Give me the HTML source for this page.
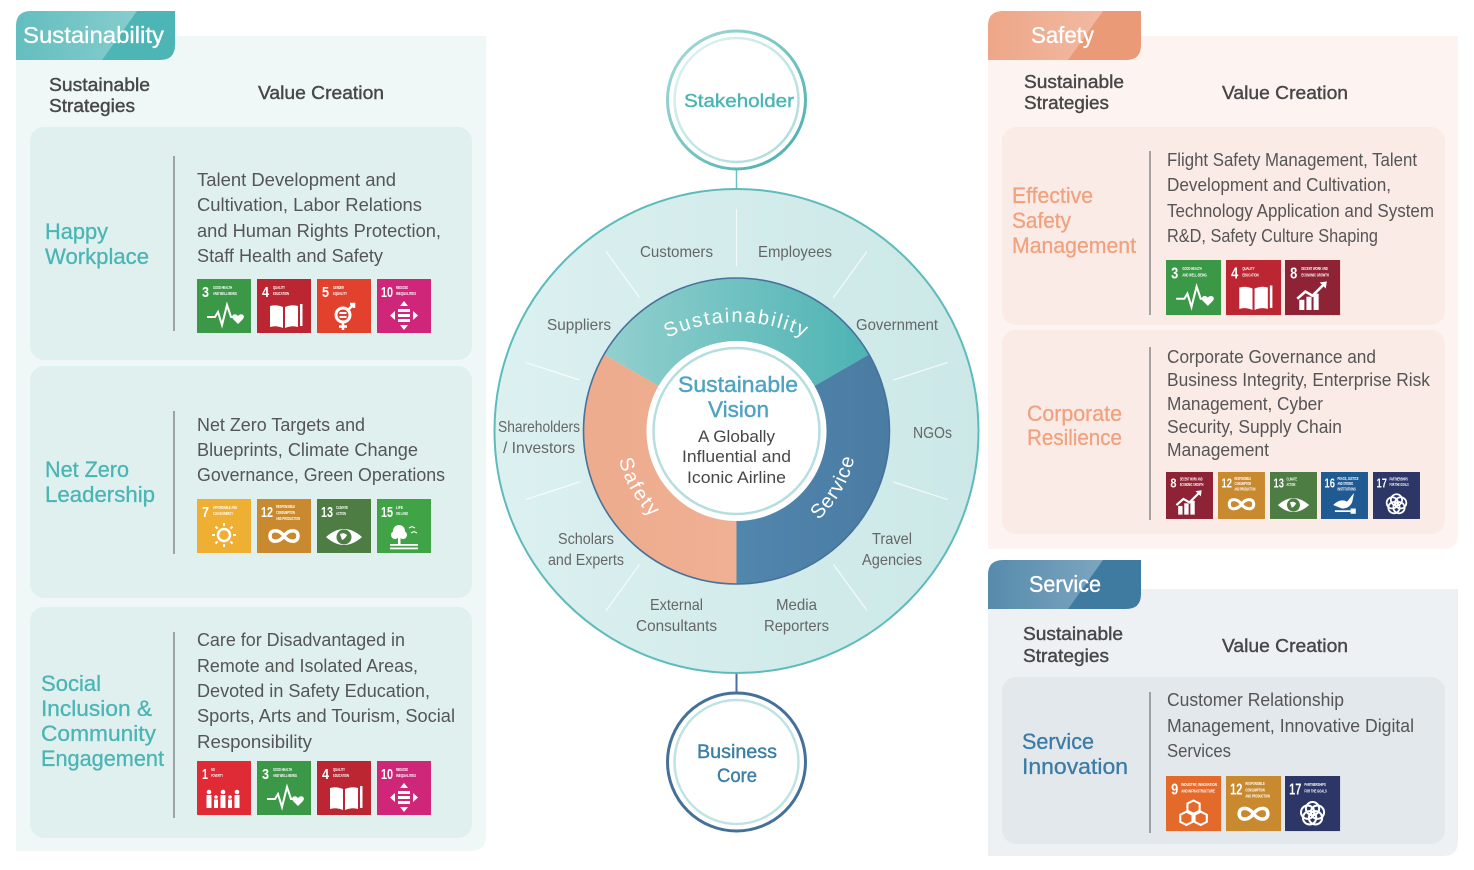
<!DOCTYPE html>
<html>
<head>
<meta charset="utf-8">
<style>
html,body{margin:0;padding:0;background:#fff;}
svg{display:block;}
.v{font-size:18.5px;fill:#555;}
.h{font-size:18.5px;fill:#474747;stroke:#474747;stroke-width:0.4;}
.tt{font-size:22.5px;stroke-width:0.3;}
.teal{fill:#4bb5b4;stroke:#4bb5b4;}
.sal{fill:#f0a27f;stroke:#f0a27f;}
.blu{fill:#3a7ca5;stroke:#3a7ca5;}
.tab{font-size:23px;fill:#fff;stroke:#fff;stroke-width:0.3;}
.lab{font-size:16px;fill:#666;}
.n{font-size:15px;font-weight:bold;fill:#fff;}
.s{font-size:4.8px;font-weight:bold;fill:#fff;}
</style>
</head>
<body>
<svg width="1474" height="870" viewBox="0 0 1474 870" xmlns="http://www.w3.org/2000/svg" font-family="'Liberation Sans', Arial, sans-serif">
<defs>
<linearGradient id="ring" x1="0" x2="1" y1="0" y2="0"><stop offset="0" stop-color="#dcf0f0"/><stop offset="1" stop-color="#cbe8e7"/></linearGradient>
<linearGradient id="sus" gradientUnits="userSpaceOnUse" x1="604" y1="0" x2="869" y2="0"><stop offset="0" stop-color="#93d0cf"/><stop offset="1" stop-color="#4db3b3"/></linearGradient>
<linearGradient id="saf" gradientUnits="userSpaceOnUse" x1="584" y1="0" x2="737" y2="0"><stop offset="0" stop-color="#eeab8d"/><stop offset="1" stop-color="#f0b093"/></linearGradient>
<linearGradient id="ser" gradientUnits="userSpaceOnUse" x1="737" y1="0" x2="890" y2="0"><stop offset="0" stop-color="#5186ad"/><stop offset="1" stop-color="#4a7ba3"/></linearGradient>
<linearGradient id="stk" x1="0" y1="0" x2="1" y2="1"><stop offset="0" stop-color="#a8dcdb"/><stop offset="1" stop-color="#45adad"/></linearGradient>
<linearGradient id="stk2" x1="0" y1="0" x2="1" y2="1"><stop offset="0" stop-color="#e0f3f3"/><stop offset="1" stop-color="#a9dbda"/></linearGradient>
<linearGradient id="hi" x1="0" x2="1" y1="0" y2="0"><stop offset="0" stop-color="#fff" stop-opacity="0.12"/><stop offset="1" stop-color="#fff" stop-opacity="0.32"/></linearGradient>

<path id="arcSus" d="M578.5,480 A158,158 0 0 1 894.5,480"/>
<path id="arcSaf" d="M631.7,370.5 A121,121 0 0 0 736.5,552"/>
<path id="arcSer" d="M736.5,552 A121,121 0 0 0 841.3,370.5"/>

<symbol id="g3" viewBox="0 0 54 54"><polyline points="10,38 18,38 21,33 25,46 30,26 34,38 37,38" fill="none" stroke="#fff" stroke-width="2"/><path d="M41,45 L36,40 Q34,37 36.5,35.5 Q39,34.5 41,37 Q43,34.5 45.5,35.5 Q48,37 46,40 Z" fill="#fff"/></symbol>
<symbol id="g4" viewBox="0 0 54 54"><path d="M13,27 Q19,25 26,28 V49 Q19,46 13,48 Z M28,28 Q35,25 41,27 V48 Q35,46 28,49 Z" fill="#fff"/><rect x="43" y="25" width="2.5" height="22" fill="#fff"/></symbol>
<symbol id="g5" viewBox="0 0 54 54"><circle cx="26" cy="36" r="7" fill="none" stroke="#fff" stroke-width="3"/><path d="M31,31 L37,25 M33,25 H37 V29" stroke="#fff" stroke-width="2.5" fill="none"/><path d="M26,43 V51 M22,47.5 H30" stroke="#fff" stroke-width="2.5"/><rect x="22.5" y="33" width="7" height="2" fill="#fff"/><rect x="22.5" y="37" width="7" height="2" fill="#fff"/></symbol>
<symbol id="g10" viewBox="0 0 54 54"><path d="M27,22 L31,27 H23 Z M27,51 L31,46 H23 Z M13,36.5 L18,32 V41 Z M41,36.5 L36,32 V41 Z" fill="#fff"/><rect x="21" y="30" width="12" height="3" fill="#fff"/><rect x="21" y="35" width="12" height="3" fill="#fff"/><rect x="21" y="40" width="12" height="3" fill="#fff"/></symbol>
<symbol id="g7" viewBox="0 0 54 54"><circle cx="27" cy="36" r="6" fill="none" stroke="#fff" stroke-width="2.5"/><g stroke="#fff" stroke-width="2"><line x1="36" y1="36" x2="39" y2="36"/><line x1="18" y1="36" x2="15" y2="36"/><line x1="27" y1="27" x2="27" y2="24"/><line x1="27" y1="45" x2="27" y2="48"/><line x1="33.4" y1="42.4" x2="35.5" y2="44.5"/><line x1="20.6" y1="42.4" x2="18.5" y2="44.5"/><line x1="33.4" y1="29.6" x2="35.5" y2="27.5"/><line x1="20.6" y1="29.6" x2="18.5" y2="27.5"/></g></symbol>
<symbol id="g12" viewBox="0 0 54 54"><path d="M27,37 C22,30 13,30 13,37 C13,44 22,44 27,37 C32,30 41,30 41,37 C41,44 32,44 27,37 Z" fill="none" stroke="#fff" stroke-width="3.5"/></symbol>
<symbol id="g13" viewBox="0 0 54 54"><path d="M9,38 Q27,22 45,38 Q27,54 9,38 Z" fill="#fff"/><circle cx="27" cy="38" r="7.5" fill="#4e7d43"/><path d="M23,35 Q27,33 30,36 Q28,40 25,41 Z" fill="#fff"/></symbol>
<symbol id="g15" viewBox="0 0 54 54"><circle cx="22" cy="32" r="6" fill="#fff"/><circle cx="18" cy="36" r="4" fill="#fff"/><circle cx="26" cy="36" r="4" fill="#fff"/><rect x="21" y="36" width="2.5" height="9" fill="#fff"/><rect x="13" y="45" width="28" height="1.8" fill="#fff"/><rect x="13" y="48.5" width="28" height="1.8" fill="#fff"/><path d="M32,29 l3,-1.5 l3,1.5 M34,34 l3,-1.5 l3,1.5" stroke="#fff" stroke-width="1" fill="none"/></symbol>
<symbol id="g1" viewBox="0 0 54 54"><g fill="#fff"><circle cx="12" cy="31" r="2.3"/><rect x="9.5" y="34" width="5" height="13"/><circle cx="19" cy="36" r="1.8"/><rect x="17" y="38.5" width="4" height="8.5"/><circle cx="26" cy="31" r="2.3"/><rect x="23.5" y="34" width="5" height="13"/><circle cx="33" cy="36" r="1.8"/><rect x="31" y="38.5" width="4" height="8.5"/><circle cx="40" cy="31" r="2.3"/><rect x="37.5" y="34" width="5" height="13"/></g></symbol>
<symbol id="g8" viewBox="0 0 54 54"><rect x="14" y="39" width="5" height="10" fill="#fff"/><rect x="21" y="36" width="5" height="13" fill="#fff"/><rect x="28" y="33" width="5" height="16" fill="#fff"/><polyline points="12,38 20,31 27,35 38,24" fill="none" stroke="#fff" stroke-width="2.5"/><path d="M34,22 L41,21 L40,28 Z" fill="#fff"/></symbol>
<symbol id="g9" viewBox="0 0 54 54"><g fill="none" stroke="#fff" stroke-width="2"><path d="M27,24 l6,3 v7 l-6,3 l-6,-3 v-7 z"/><path d="M20,35 l6,3 v7 l-6,3 l-6,-3 v-7 z"/><path d="M34,35 l6,3 v7 l-6,3 l-6,-3 v-7 z"/></g></symbol>
<symbol id="g16" viewBox="0 0 54 54"><path d="M14,38 Q22,30 30,34 L38,24 L36,34 Q33,42 24,42 Z" fill="#fff"/><rect x="16" y="44" width="20" height="2" fill="#fff"/><rect x="34" y="42" width="6" height="6" fill="#fff"/></symbol>
<symbol id="g17" viewBox="0 0 54 54"><g fill="none" stroke="#fff" stroke-width="2"><circle cx="27" cy="32" r="6.5"/><circle cx="31.8" cy="35.5" r="6.5"/><circle cx="29.9" cy="41" r="6.5"/><circle cx="24.1" cy="41" r="6.5"/><circle cx="22.2" cy="35.5" r="6.5"/></g></symbol>
</defs>

<rect width="1474" height="870" fill="#fff"/>

<!-- ============ LEFT PANEL ============ -->
<path d="M16,36 H486 V836 Q486,851 471,851 H16 Z" fill="#eff8f7"/>
<path d="M16,26 Q16,11 31,11 H175 V45 Q175,60 160,60 H16 Z" fill="#4eb5b6"/>
<path d="M16,26 Q16,11 31,11 H137 L102,60 H16 Z" fill="url(#hi)"/>
<text class="tab" x="23" y="43" textLength="141" lengthAdjust="spacingAndGlyphs">Sustainability</text>

<text class="h" x="49" y="91" textLength="101" lengthAdjust="spacingAndGlyphs">Sustainable</text>
<text class="h" x="49" y="112" textLength="86" lengthAdjust="spacingAndGlyphs">Strategies</text>
<text class="h" x="258" y="99" textLength="126" lengthAdjust="spacingAndGlyphs">Value Creation</text>

<rect x="30" y="127" width="442" height="233" rx="14" fill="#dff0ef"/>
<rect x="30" y="366" width="442" height="232" rx="14" fill="#dff0ef"/>
<rect x="30" y="607" width="442" height="231" rx="14" fill="#dff0ef"/>
<g stroke="#7a7a7a" stroke-width="1.3">
<line x1="174" y1="156" x2="174" y2="331"/>
<line x1="174" y1="411" x2="174" y2="554"/>
<line x1="174" y1="632" x2="174" y2="818"/>
</g>

<text class="tt teal" x="45" y="239" textLength="63" lengthAdjust="spacingAndGlyphs">Happy</text>
<text class="tt teal" x="45" y="264" textLength="104" lengthAdjust="spacingAndGlyphs">Workplace</text>
<text class="tt teal" x="45" y="477" textLength="84" lengthAdjust="spacingAndGlyphs">Net Zero</text>
<text class="tt teal" x="45" y="502" textLength="110" lengthAdjust="spacingAndGlyphs">Leadership</text>
<text class="tt teal" x="41" y="691" textLength="60" lengthAdjust="spacingAndGlyphs">Social</text>
<text class="tt teal" x="41" y="716" textLength="111" lengthAdjust="spacingAndGlyphs">Inclusion &amp;</text>
<text class="tt teal" x="41" y="741" textLength="115" lengthAdjust="spacingAndGlyphs">Community</text>
<text class="tt teal" x="41" y="766" textLength="123" lengthAdjust="spacingAndGlyphs">Engagement</text>

<text class="v" x="197" y="186" textLength="199" lengthAdjust="spacingAndGlyphs">Talent Development and</text>
<text class="v" x="197" y="211" textLength="225" lengthAdjust="spacingAndGlyphs">Cultivation, Labor Relations</text>
<text class="v" x="197" y="237" textLength="244" lengthAdjust="spacingAndGlyphs">and Human Rights Protection,</text>
<text class="v" x="197" y="262" textLength="186" lengthAdjust="spacingAndGlyphs">Staff Health and Safety</text>

<text class="v" x="197" y="431" textLength="168" lengthAdjust="spacingAndGlyphs">Net Zero Targets and</text>
<text class="v" x="197" y="456" textLength="221" lengthAdjust="spacingAndGlyphs">Blueprints, Climate Change</text>
<text class="v" x="197" y="481" textLength="248" lengthAdjust="spacingAndGlyphs">Governance, Green Operations</text>

<text class="v" x="197" y="646" textLength="208" lengthAdjust="spacingAndGlyphs">Care for Disadvantaged in</text>
<text class="v" x="197" y="672" textLength="221" lengthAdjust="spacingAndGlyphs">Remote and Isolated Areas,</text>
<text class="v" x="197" y="697" textLength="233" lengthAdjust="spacingAndGlyphs">Devoted in Safety Education,</text>
<text class="v" x="197" y="722" textLength="258" lengthAdjust="spacingAndGlyphs">Sports, Arts and Tourism, Social</text>
<text class="v" x="197" y="748" textLength="115" lengthAdjust="spacingAndGlyphs">Responsibility</text>

<!-- Left SDGs card 1 -->
<g transform="translate(197,279)"><rect width="54" height="54" fill="#3a9847"/><use href="#g3" width="54" height="54"/><text class="n" x="5" y="18" textLength="7" lengthAdjust="spacingAndGlyphs">3</text><text class="s" x="16" y="10" textLength="19" lengthAdjust="spacingAndGlyphs">GOOD HEALTH</text><text class="s" x="16" y="16" textLength="24" lengthAdjust="spacingAndGlyphs">AND WELL-BEING</text></g>
<g transform="translate(257,279)"><rect width="54" height="54" fill="#bc2532"/><use href="#g4" width="54" height="54"/><text class="n" x="5" y="18" textLength="7" lengthAdjust="spacingAndGlyphs">4</text><text class="s" x="16" y="10" textLength="12" lengthAdjust="spacingAndGlyphs">QUALITY</text><text class="s" x="16" y="16" textLength="16" lengthAdjust="spacingAndGlyphs">EDUCATION</text></g>
<g transform="translate(317,279)"><rect width="54" height="54" fill="#e2422d"/><use href="#g5" width="54" height="54"/><text class="n" x="5" y="18" textLength="7" lengthAdjust="spacingAndGlyphs">5</text><text class="s" x="16" y="10" textLength="11" lengthAdjust="spacingAndGlyphs">GENDER</text><text class="s" x="16" y="16" textLength="14" lengthAdjust="spacingAndGlyphs">EQUALITY</text></g>
<g transform="translate(377,279)"><rect width="54" height="54" fill="#d0267a"/><use href="#g10" width="54" height="54"/><text class="n" x="4" y="18" textLength="12" lengthAdjust="spacingAndGlyphs">10</text><text class="s" x="19" y="10" textLength="12" lengthAdjust="spacingAndGlyphs">REDUCED</text><text class="s" x="19" y="16" textLength="20" lengthAdjust="spacingAndGlyphs">INEQUALITIES</text></g>

<!-- Left SDGs card 2 -->
<g transform="translate(197,499)"><rect width="54" height="54" fill="#efaf33"/><use href="#g7" width="54" height="54"/><text class="n" x="5" y="18" textLength="7" lengthAdjust="spacingAndGlyphs">7</text><text class="s" x="16" y="10" textLength="24" lengthAdjust="spacingAndGlyphs">AFFORDABLE AND</text><text class="s" x="16" y="16" textLength="20" lengthAdjust="spacingAndGlyphs">CLEAN ENERGY</text></g>
<g transform="translate(257,499)"><rect width="54" height="54" fill="#c98a2f"/><use href="#g12" width="54" height="54"/><text class="n" x="4" y="18" textLength="12" lengthAdjust="spacingAndGlyphs">12</text><text class="s" x="19" y="9" textLength="19" lengthAdjust="spacingAndGlyphs">RESPONSIBLE</text><text class="s" x="19" y="15" textLength="19" lengthAdjust="spacingAndGlyphs">CONSUMPTION</text><text class="s" x="19" y="21" textLength="24" lengthAdjust="spacingAndGlyphs">AND PRODUCTION</text></g>
<g transform="translate(317,499)"><rect width="54" height="54" fill="#4e7d43"/><use href="#g13" width="54" height="54"/><text class="n" x="4" y="18" textLength="12" lengthAdjust="spacingAndGlyphs">13</text><text class="s" x="19" y="10" textLength="12" lengthAdjust="spacingAndGlyphs">CLIMATE</text><text class="s" x="19" y="16" textLength="10" lengthAdjust="spacingAndGlyphs">ACTION</text></g>
<g transform="translate(377,499)"><rect width="54" height="54" fill="#40a447"/><use href="#g15" width="54" height="54"/><text class="n" x="4" y="18" textLength="12" lengthAdjust="spacingAndGlyphs">15</text><text class="s" x="19" y="10" textLength="7" lengthAdjust="spacingAndGlyphs">LIFE</text><text class="s" x="19" y="16" textLength="12" lengthAdjust="spacingAndGlyphs">ON LAND</text></g>

<!-- Left SDGs card 3 -->
<g transform="translate(197,761)"><rect width="54" height="54" fill="#e02a36"/><use href="#g1" width="54" height="54"/><text class="n" x="5" y="18" textLength="6" lengthAdjust="spacingAndGlyphs">1</text><text class="s" x="14" y="10" textLength="4" lengthAdjust="spacingAndGlyphs">NO</text><text class="s" x="14" y="16" textLength="12" lengthAdjust="spacingAndGlyphs">POVERTY</text></g>
<g transform="translate(257,761)"><rect width="54" height="54" fill="#3a9847"/><use href="#g3" width="54" height="54"/><text class="n" x="5" y="18" textLength="7" lengthAdjust="spacingAndGlyphs">3</text><text class="s" x="16" y="10" textLength="19" lengthAdjust="spacingAndGlyphs">GOOD HEALTH</text><text class="s" x="16" y="16" textLength="24" lengthAdjust="spacingAndGlyphs">AND WELL-BEING</text></g>
<g transform="translate(317,761)"><rect width="54" height="54" fill="#bc2532"/><use href="#g4" width="54" height="54"/><text class="n" x="5" y="18" textLength="7" lengthAdjust="spacingAndGlyphs">4</text><text class="s" x="16" y="10" textLength="12" lengthAdjust="spacingAndGlyphs">QUALITY</text><text class="s" x="16" y="16" textLength="16" lengthAdjust="spacingAndGlyphs">EDUCATION</text></g>
<g transform="translate(377,761)"><rect width="54" height="54" fill="#d0267a"/><use href="#g10" width="54" height="54"/><text class="n" x="4" y="18" textLength="12" lengthAdjust="spacingAndGlyphs">10</text><text class="s" x="19" y="10" textLength="12" lengthAdjust="spacingAndGlyphs">REDUCED</text><text class="s" x="19" y="16" textLength="20" lengthAdjust="spacingAndGlyphs">INEQUALITIES</text></g>

<!-- ============ CENTER ============ -->
<line x1="736.5" y1="168" x2="736.5" y2="192" stroke="#6cc0c0" stroke-width="1.5"/>
<line x1="736.5" y1="584" x2="736.5" y2="693" stroke="#44709a" stroke-width="2"/>

<circle cx="736.5" cy="431" r="242" fill="url(#ring)" stroke="#5dbbbb" stroke-width="2"/>
<g stroke="#ffffff" stroke-opacity="0.75" stroke-width="1.2">
<line x1="736.5" y1="266" x2="736.5" y2="209"/>
<line x1="639.5" y1="297.5" x2="606" y2="251.4"/>
<line x1="833.5" y1="297.5" x2="867" y2="251.4"/>
<line x1="579.6" y1="380" x2="525.4" y2="362.4"/>
<line x1="893.4" y1="380" x2="947.6" y2="362.4"/>
<line x1="579.6" y1="482" x2="525.4" y2="499.6"/>
<line x1="893.4" y1="482" x2="947.6" y2="499.6"/>
<line x1="639.5" y1="564.5" x2="606" y2="610.6"/>
<line x1="833.5" y1="564.5" x2="867" y2="610.6"/>
</g>

<path d="M604,354.5 A153,153 0 0 1 869,354.5 L814.4,386 A90,90 0 0 0 658.6,386 Z" fill="url(#sus)"/>
<path d="M736.5,584 A153,153 0 0 1 604,354.5 L658.6,386 A90,90 0 0 0 736.5,521 Z" fill="url(#saf)"/>
<path d="M869,354.5 A153,153 0 0 1 736.5,584 L736.5,521 A90,90 0 0 0 814.4,386 Z" fill="url(#ser)"/>
<circle cx="736.5" cy="431" r="153" fill="none" stroke="#46729b" stroke-width="1.6"/>
<circle cx="736.5" cy="431" r="90" fill="#fff"/>
<circle cx="736.5" cy="431" r="83" fill="none" stroke="#b5dfde" stroke-width="2.5"/>

<text font-size="20" fill="#fff" letter-spacing="1.8"><textPath href="#arcSus" startOffset="50%" text-anchor="middle">Sustainability</textPath></text>
<text font-size="20" fill="#fff" letter-spacing="2"><textPath href="#arcSaf" startOffset="50%" text-anchor="middle">Safety</textPath></text>
<text font-size="20" fill="#fff" letter-spacing="1"><textPath href="#arcSer" startOffset="50%" text-anchor="middle">Service</textPath></text>

<text x="678" y="392" font-size="22" fill="#4ea2c3" stroke="#4ea2c3" stroke-width="0.4" textLength="120" lengthAdjust="spacingAndGlyphs">Sustainable</text>
<text x="708" y="417" font-size="22" fill="#4ea2c3" stroke="#4ea2c3" stroke-width="0.4" textLength="61" lengthAdjust="spacingAndGlyphs">Vision</text>
<text x="698" y="442" font-size="16.5" fill="#474747" textLength="77" lengthAdjust="spacingAndGlyphs">A Globally</text>
<text x="682" y="462" font-size="16.5" fill="#474747" textLength="109" lengthAdjust="spacingAndGlyphs">Influential and</text>
<text x="687" y="483" font-size="16.5" fill="#474747" textLength="99" lengthAdjust="spacingAndGlyphs">Iconic Airline</text>

<text class="lab" x="640" y="257" textLength="73" lengthAdjust="spacingAndGlyphs">Customers</text>
<text class="lab" x="758" y="257" textLength="74" lengthAdjust="spacingAndGlyphs">Employees</text>
<text class="lab" x="547" y="330" textLength="64" lengthAdjust="spacingAndGlyphs">Suppliers</text>
<text class="lab" x="856" y="330" textLength="82" lengthAdjust="spacingAndGlyphs">Government</text>
<text class="lab" x="498" y="432" textLength="82" lengthAdjust="spacingAndGlyphs">Shareholders</text>
<text class="lab" x="503" y="453" textLength="72" lengthAdjust="spacingAndGlyphs">/ Investors</text>
<text class="lab" x="913" y="438" textLength="39" lengthAdjust="spacingAndGlyphs">NGOs</text>
<text class="lab" x="558" y="544" textLength="56" lengthAdjust="spacingAndGlyphs">Scholars</text>
<text class="lab" x="548" y="565" textLength="76" lengthAdjust="spacingAndGlyphs">and Experts</text>
<text class="lab" x="872" y="544" textLength="40" lengthAdjust="spacingAndGlyphs">Travel</text>
<text class="lab" x="862" y="565" textLength="60" lengthAdjust="spacingAndGlyphs">Agencies</text>
<text class="lab" x="650" y="610" textLength="53" lengthAdjust="spacingAndGlyphs">External</text>
<text class="lab" x="636" y="631" textLength="81" lengthAdjust="spacingAndGlyphs">Consultants</text>
<text class="lab" x="776" y="610" textLength="41" lengthAdjust="spacingAndGlyphs">Media</text>
<text class="lab" x="764" y="631" textLength="65" lengthAdjust="spacingAndGlyphs">Reporters</text>

<!-- Stakeholder circle -->
<circle cx="736.5" cy="100" r="69" fill="#fff" stroke="url(#stk)" stroke-width="3"/>
<circle cx="736.5" cy="100" r="62" fill="none" stroke="url(#stk2)" stroke-width="2.5"/>
<text x="684" y="107" font-size="18.5" fill="#4bb5b4" stroke="#4bb5b4" stroke-width="0.4" textLength="110" lengthAdjust="spacingAndGlyphs">Stakeholder</text>

<!-- Business Core circle -->
<circle cx="736.5" cy="762" r="69" fill="#fff" stroke="#44709a" stroke-width="3"/>
<circle cx="736.5" cy="762" r="62" fill="none" stroke="#bfe3e2" stroke-width="2.5"/>
<text x="697" y="758" font-size="19" fill="#3d7ea6" stroke="#3d7ea6" stroke-width="0.4" textLength="80" lengthAdjust="spacingAndGlyphs">Business</text>
<text x="717" y="782" font-size="19" fill="#3d7ea6" stroke="#3d7ea6" stroke-width="0.4" textLength="40" lengthAdjust="spacingAndGlyphs">Core</text>

<!-- ============ SAFETY PANEL ============ -->
<path d="M988,36 H1458 V534 Q1458,549 1443,549 H988 Z" fill="#fdf4f1"/>
<path d="M988,26 Q988,11 1003,11 H1141 V45 Q1141,60 1126,60 H988 Z" fill="#eb9a77"/>
<path d="M988,26 Q988,11 1003,11 H1103 L1068,60 H988 Z" fill="url(#hi)"/>
<text class="tab" x="1031" y="43" textLength="63" lengthAdjust="spacingAndGlyphs">Safety</text>

<text class="h" x="1024" y="88" textLength="100" lengthAdjust="spacingAndGlyphs">Sustainable</text>
<text class="h" x="1024" y="109" textLength="85" lengthAdjust="spacingAndGlyphs">Strategies</text>
<text class="h" x="1222" y="99" textLength="126" lengthAdjust="spacingAndGlyphs">Value Creation</text>

<rect x="1002" y="127" width="443" height="198" rx="14" fill="#fbebe6"/>
<rect x="1002" y="330" width="443" height="204" rx="14" fill="#fbebe6"/>
<g stroke="#7a7a7a" stroke-width="1.3">
<line x1="1150" y1="151" x2="1150" y2="315"/>
<line x1="1150" y1="347" x2="1150" y2="520"/>
</g>

<text class="tt sal" x="1012" y="203" textLength="81" lengthAdjust="spacingAndGlyphs">Effective</text>
<text class="tt sal" x="1012" y="228" textLength="59" lengthAdjust="spacingAndGlyphs">Safety</text>
<text class="tt sal" x="1012" y="253" textLength="124" lengthAdjust="spacingAndGlyphs">Management</text>
<text class="tt sal" x="1027" y="421" textLength="95" lengthAdjust="spacingAndGlyphs">Corporate</text>
<text class="tt sal" x="1027" y="445" textLength="95" lengthAdjust="spacingAndGlyphs">Resilience</text>

<text class="v" x="1167" y="166" textLength="250" lengthAdjust="spacingAndGlyphs">Flight Safety Management, Talent</text>
<text class="v" x="1167" y="191" textLength="224" lengthAdjust="spacingAndGlyphs">Development and Cultivation,</text>
<text class="v" x="1167" y="217" textLength="267" lengthAdjust="spacingAndGlyphs">Technology Application and System</text>
<text class="v" x="1167" y="242" textLength="211" lengthAdjust="spacingAndGlyphs">R&amp;D, Safety Culture Shaping</text>

<text class="v" x="1167" y="363" textLength="209" lengthAdjust="spacingAndGlyphs">Corporate Governance and</text>
<text class="v" x="1167" y="386" textLength="263" lengthAdjust="spacingAndGlyphs">Business Integrity, Enterprise Risk</text>
<text class="v" x="1167" y="410" textLength="156" lengthAdjust="spacingAndGlyphs">Management, Cyber</text>
<text class="v" x="1167" y="433" textLength="175" lengthAdjust="spacingAndGlyphs">Security, Supply Chain</text>
<text class="v" x="1167" y="456" textLength="102" lengthAdjust="spacingAndGlyphs">Management</text>

<!-- Safety SDGs -->
<g transform="translate(1166,260) scale(1.02)"><rect width="54" height="54" fill="#3a9847"/><use href="#g3" width="54" height="54"/><text class="n" x="5" y="18" textLength="7" lengthAdjust="spacingAndGlyphs">3</text><text class="s" x="16" y="10" textLength="19" lengthAdjust="spacingAndGlyphs">GOOD HEALTH</text><text class="s" x="16" y="16" textLength="24" lengthAdjust="spacingAndGlyphs">AND WELL-BEING</text></g>
<g transform="translate(1226,260) scale(1.02)"><rect width="54" height="54" fill="#bc2532"/><use href="#g4" width="54" height="54"/><text class="n" x="5" y="18" textLength="7" lengthAdjust="spacingAndGlyphs">4</text><text class="s" x="16" y="10" textLength="12" lengthAdjust="spacingAndGlyphs">QUALITY</text><text class="s" x="16" y="16" textLength="16" lengthAdjust="spacingAndGlyphs">EDUCATION</text></g>
<g transform="translate(1285,260) scale(1.02)"><rect width="54" height="54" fill="#8e2336"/><use href="#g8" width="54" height="54"/><text class="n" x="5" y="18" textLength="7" lengthAdjust="spacingAndGlyphs">8</text><text class="s" x="16" y="10" textLength="26" lengthAdjust="spacingAndGlyphs">DECENT WORK AND</text><text class="s" x="16" y="16" textLength="27" lengthAdjust="spacingAndGlyphs">ECONOMIC GROWTH</text></g>

<!-- Corporate SDGs -->
<g transform="translate(1166,472) scale(0.87)"><rect width="54" height="54" fill="#8e2336"/><use href="#g8" width="54" height="54"/><text class="n" x="5" y="18" textLength="7" lengthAdjust="spacingAndGlyphs">8</text><text class="s" x="16" y="10" textLength="26" lengthAdjust="spacingAndGlyphs">DECENT WORK AND</text><text class="s" x="16" y="16" textLength="27" lengthAdjust="spacingAndGlyphs">ECONOMIC GROWTH</text></g>
<g transform="translate(1218,472) scale(0.87)"><rect width="54" height="54" fill="#c98a2f"/><use href="#g12" width="54" height="54"/><text class="n" x="4" y="18" textLength="12" lengthAdjust="spacingAndGlyphs">12</text><text class="s" x="19" y="9" textLength="19" lengthAdjust="spacingAndGlyphs">RESPONSIBLE</text><text class="s" x="19" y="15" textLength="19" lengthAdjust="spacingAndGlyphs">CONSUMPTION</text><text class="s" x="19" y="21" textLength="24" lengthAdjust="spacingAndGlyphs">AND PRODUCTION</text></g>
<g transform="translate(1270,472) scale(0.87)"><rect width="54" height="54" fill="#4e7d43"/><use href="#g13" width="54" height="54"/><text class="n" x="4" y="18" textLength="12" lengthAdjust="spacingAndGlyphs">13</text><text class="s" x="19" y="10" textLength="12" lengthAdjust="spacingAndGlyphs">CLIMATE</text><text class="s" x="19" y="16" textLength="10" lengthAdjust="spacingAndGlyphs">ACTION</text></g>
<g transform="translate(1321,472) scale(0.87)"><rect width="54" height="54" fill="#1f5a92"/><use href="#g16" width="54" height="54"/><text class="n" x="4" y="18" textLength="12" lengthAdjust="spacingAndGlyphs">16</text><text class="s" x="19" y="9" textLength="24" lengthAdjust="spacingAndGlyphs">PEACE, JUSTICE</text><text class="s" x="19" y="15" textLength="18" lengthAdjust="spacingAndGlyphs">AND STRONG</text><text class="s" x="19" y="21" textLength="21" lengthAdjust="spacingAndGlyphs">INSTITUTIONS</text></g>
<g transform="translate(1373,472) scale(0.87)"><rect width="54" height="54" fill="#2c3767"/><use href="#g17" width="54" height="54"/><text class="n" x="4" y="18" textLength="12" lengthAdjust="spacingAndGlyphs">17</text><text class="s" x="19" y="10" textLength="21" lengthAdjust="spacingAndGlyphs">PARTNERSHIPS</text><text class="s" x="19" y="16" textLength="22" lengthAdjust="spacingAndGlyphs">FOR THE GOALS</text></g>

<!-- ============ SERVICE PANEL ============ -->
<path d="M988,589 H1458 V841 Q1458,856 1443,856 H988 Z" fill="#edf1f4"/>
<path d="M988,575 Q988,560 1003,560 H1141 V594 Q1141,609 1126,609 H988 Z" fill="#3f7ba1"/>
<path d="M988,575 Q988,560 1003,560 H1103 L1068,609 H988 Z" fill="url(#hi)"/>
<text class="tab" x="1029" y="592" textLength="72" lengthAdjust="spacingAndGlyphs">Service</text>

<text class="h" x="1023" y="640" textLength="100" lengthAdjust="spacingAndGlyphs">Sustainable</text>
<text class="h" x="1023" y="662" textLength="86" lengthAdjust="spacingAndGlyphs">Strategies</text>
<text class="h" x="1222" y="652" textLength="126" lengthAdjust="spacingAndGlyphs">Value Creation</text>

<rect x="1002" y="677" width="443" height="167" rx="14" fill="#e3e8ec"/>
<line x1="1150" y1="692" x2="1150" y2="833" stroke="#7a7a7a" stroke-width="1.3"/>

<text class="tt blu" x="1022" y="749" textLength="72" lengthAdjust="spacingAndGlyphs">Service</text>
<text class="tt blu" x="1022" y="774" textLength="106" lengthAdjust="spacingAndGlyphs">Innovation</text>

<text class="v" x="1167" y="706" textLength="177" lengthAdjust="spacingAndGlyphs">Customer Relationship</text>
<text class="v" x="1167" y="732" textLength="247" lengthAdjust="spacingAndGlyphs">Management, Innovative Digital</text>
<text class="v" x="1167" y="757" textLength="64" lengthAdjust="spacingAndGlyphs">Services</text>

<g transform="translate(1166,776) scale(1.02)"><rect width="54" height="54" fill="#e46a2b"/><use href="#g9" width="54" height="54"/><text class="n" x="5" y="18" textLength="7" lengthAdjust="spacingAndGlyphs">9</text><text class="s" x="15" y="10" textLength="35" lengthAdjust="spacingAndGlyphs">INDUSTRY, INNOVATION</text><text class="s" x="15" y="16" textLength="33" lengthAdjust="spacingAndGlyphs">AND INFRASTRUCTURE</text></g>
<g transform="translate(1226,776) scale(1.02)"><rect width="54" height="54" fill="#c98a2f"/><use href="#g12" width="54" height="54"/><text class="n" x="4" y="18" textLength="12" lengthAdjust="spacingAndGlyphs">12</text><text class="s" x="19" y="9" textLength="19" lengthAdjust="spacingAndGlyphs">RESPONSIBLE</text><text class="s" x="19" y="15" textLength="19" lengthAdjust="spacingAndGlyphs">CONSUMPTION</text><text class="s" x="19" y="21" textLength="24" lengthAdjust="spacingAndGlyphs">AND PRODUCTION</text></g>
<g transform="translate(1285,776) scale(1.02)"><rect width="54" height="54" fill="#2c3767"/><use href="#g17" width="54" height="54"/><text class="n" x="4" y="18" textLength="12" lengthAdjust="spacingAndGlyphs">17</text><text class="s" x="19" y="10" textLength="21" lengthAdjust="spacingAndGlyphs">PARTNERSHIPS</text><text class="s" x="19" y="16" textLength="22" lengthAdjust="spacingAndGlyphs">FOR THE GOALS</text></g>

</svg>
</body>
</html>
